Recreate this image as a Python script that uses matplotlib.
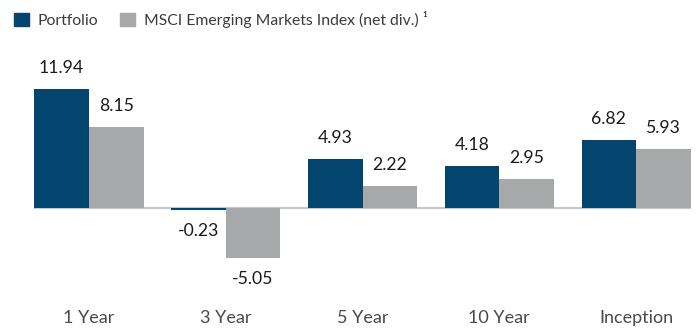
import numpy as np
import matplotlib.pyplot as plt
from matplotlib.patches import Patch

periods = ["1 Year", "3 Year", "5 Year", "10 Year", "Inception"]
portfolio = [11.94, -0.23, 4.93, 4.18, 6.82]
msci_em = [8.15, -5.05, 2.22, 2.95, 5.93]

navy = "#03456f"
grey = "#a7a8aa"

plt.rcParams["font.family"] = ["Lato", "DejaVu Sans"]

fig = plt.figure(figsize=(6.96, 3.31), dpi=100)
# axes spans the bars horizontally, zero line sits near y=208px
ax = fig.add_axes([34 / 696, 1 - 300 / 331, (691 - 34) / 696, 240 / 331])

x = np.arange(len(periods))
w = 0.4
b1 = ax.bar(x - w / 2, portfolio, w, color=navy)
b2 = ax.bar(x + w / 2, msci_em, w, color=grey)

ax.axhline(0, color="#c9c9c9", lw=1.6, zorder=0)

for bars, vals in [(b1, portfolio), (b2, msci_em)]:
    for r, v in zip(bars, vals):
        off = 15 if v >= 0 else -15
        ax.annotate(f"{v:.2f}", (r.get_x() + r.get_width() / 2, v),
                    xytext=(0, off), textcoords="offset points",
                    ha="center", va="center", fontsize=12.7, color="#1a1a1a")

ax.set_xlim(-0.4, 4.4)
ax.set_ylim(-9.23, 14.84)
ax.set_xticks(x)
ax.set_xticklabels(periods, fontsize=13, color="#4a4a4a")
ax.tick_params(axis="x", length=0, pad=7)
ax.set_yticks([])
for s in ax.spines.values():
    s.set_visible(False)

handles = [Patch(color=navy, label="Portfolio"),
           Patch(color=grey, label="MSCI Emerging Markets Index (net div.) ¹")]
fig.legend(handles=handles, loc="upper left", bbox_to_anchor=(0.0, 1.01),
           ncol=2, frameon=False, fontsize=11.3, handlelength=0.95, handleheight=0.95,
           handletextpad=0.55, columnspacing=1.4, labelcolor="#3a3a3a")

fig.savefig("out.png", dpi=100)
